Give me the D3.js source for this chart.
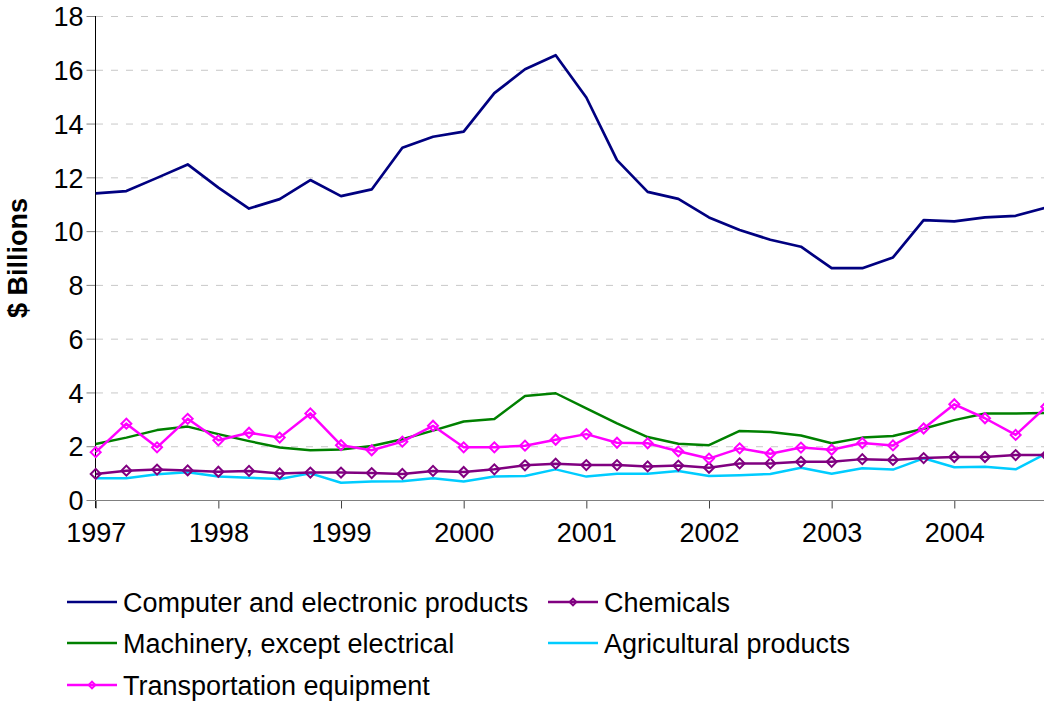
<!DOCTYPE html>
<html>
<head>
<meta charset="utf-8">
<script src="https://cdn.jsdelivr.net/npm/d3@7"></script>
<style>
  html, body { margin: 0; padding: 0; background: #fff; }
  svg { display: block; font-family: "Liberation Sans", Arial, sans-serif; }
</style>
</head>
<body>
<svg id="chart" width="1044" height="703"></svg>
<script>
// Quarterly data, 1997 Q1 .. 2004 Q4
const quarters = d3.range(32).map(i => 1997 + i / 4);
const computer = [11.40, 11.49, 11.98, 12.48, 11.62, 10.84, 11.19, 11.90,
                  11.30, 11.55, 13.10, 13.51, 13.70, 15.13, 16.02, 16.54,
                  14.97, 12.64, 11.46, 11.20, 10.51, 10.04, 9.68, 9.42,
                  8.62, 8.62, 9.02, 10.41, 10.36, 10.51, 10.57, 10.88];
const machinery = [2.08, 2.32, 2.60, 2.73, 2.45, 2.19, 1.95, 1.85,
                   1.88, 2.01, 2.26, 2.58, 2.92, 3.01, 3.87, 3.97,
                   3.41, 2.85, 2.34, 2.09, 2.04, 2.57, 2.53, 2.40,
                   2.11, 2.32, 2.38, 2.65, 2.97, 3.22, 3.22, 3.24];
const transport = [1.78, 2.84, 1.96, 3.02, 2.22, 2.50, 2.32, 3.22,
                   2.04, 1.85, 2.17, 2.76, 1.96, 1.96, 2.02, 2.24,
                   2.45, 2.13, 2.11, 1.81, 1.54, 1.92, 1.72, 1.95,
                   1.87, 2.12, 2.03, 2.66, 3.56, 3.04, 2.42, 3.47];
const chemicals = [0.97, 1.09, 1.13, 1.10, 1.05, 1.08, 0.99, 1.02,
                   1.02, 1.00, 0.97, 1.08, 1.04, 1.14, 1.29, 1.35,
                   1.30, 1.30, 1.25, 1.28, 1.20, 1.36, 1.36, 1.42,
                   1.42, 1.52, 1.49, 1.56, 1.60, 1.60, 1.67, 1.67];
const agricultural = [0.81, 0.81, 0.96, 1.03, 0.87, 0.83, 0.78, 0.99,
                      0.64, 0.69, 0.70, 0.81, 0.69, 0.87, 0.89, 1.14,
                      0.87, 0.98, 0.98, 1.08, 0.89, 0.92, 0.97, 1.20,
                      0.98, 1.18, 1.13, 1.55, 1.22, 1.24, 1.14, 1.73];
const xTickLabels = ["1997", "1998", "1999", "2000", "2001", "2002", "2003", "2004"];
const yTicks = [0, 2, 4, 6, 8, 10, 12, 14, 16, 18];
const yTitle = "$ Billions";

const series = [
  { name: "Computer and electronic products", values: computer, color: "#000080", marker: false, width: 2.7 },
  { name: "Machinery, except electrical", values: machinery, color: "#008000", marker: false, width: 2.5 },
  { name: "Transportation equipment", values: transport, color: "#FF00FF", marker: true, width: 2.5 },
  { name: "Chemicals", values: chemicals, color: "#800080", marker: true, width: 2.5 },
  { name: "Agricultural products", values: agricultural, color: "#00CCFF", marker: false, width: 2.5 }
];
const drawOrder = [0, 4, 3, 1, 2];

const svg = d3.select("#chart");
const x = d3.scaleLinear().domain([1997, 2004.75]).range([95.7, 1046.3]);
const y = d3.scaleLinear().domain([0, 18]).range([500, 16]);

// gridlines
svg.append("g").selectAll("line").data(yTicks.filter(d => d > 0)).join("line")
  .attr("x1", 96).attr("x2", 1044)
  .attr("y1", d => y(d) + 0.5).attr("y2", d => y(d) + 0.5)
  .attr("stroke", "#c8c8c8").attr("stroke-width", 1)
  .attr("stroke-dasharray", "7,8");

// y axis
const yAxis = d3.axisLeft(y).tickValues(yTicks).tickSize(9).tickPadding(3).tickFormat(d3.format("d"));
const gy = svg.append("g").attr("transform", "translate(95.5,0)").call(yAxis);
gy.select(".domain").remove();
gy.selectAll(".tick line").attr("stroke", "#808080");
gy.selectAll(".tick text").attr("font-size", 27).attr("fill", "#000").attr("dy", "0.36em")
  .attr("font-family", "Liberation Sans, Arial, sans-serif");
svg.append("line").attr("x1", 95.5).attr("x2", 95.5).attr("y1", 16).attr("y2", 508)
  .attr("stroke", "#000").attr("stroke-width", 1);

// x axis
const xAxis = d3.axisBottom(x).tickValues(d3.range(1997, 2005)).tickSize(8).tickPadding(14)
  .tickFormat((d, i) => xTickLabels[i]);
const gx = svg.append("g").attr("transform", "translate(0,500.5)").call(xAxis);
gx.select(".domain").remove();
gx.selectAll(".tick line").attr("stroke", "#404040");
gx.selectAll(".tick text").attr("font-size", 27).attr("fill", "#000")
  .attr("font-family", "Liberation Sans, Arial, sans-serif");
svg.append("line").attr("x1", 87).attr("x2", 1044).attr("y1", 500.5).attr("y2", 500.5)
  .attr("stroke", "#808080").attr("stroke-width", 1.2);

// y title
svg.append("text").attr("transform", "translate(27,258) rotate(-90)")
  .attr("text-anchor", "middle").attr("font-size", 27).attr("font-weight", "bold")
  .attr("fill", "#000").text(yTitle);

// lines
const line = d3.line().x((d, i) => x(quarters[i])).y(d => y(d));
const diamond = d3.symbol().type(d3.symbolSquare).size(50);
drawOrder.forEach(k => {
  const s = series[k];
  const g = svg.append("g");
  g.append("path").datum(s.values).attr("d", line)
    .attr("fill", "none").attr("stroke", s.color).attr("stroke-width", s.width)
    .attr("stroke-linejoin", "round");
  if (s.marker) {
    g.selectAll("path.m").data(s.values).join("path").attr("class", "m")
      .attr("d", diamond)
      .attr("transform", (d, i) => `translate(${x(quarters[i])},${y(d)}) rotate(45)`)
      .attr("fill", "none").attr("stroke", s.color).attr("stroke-width", 2);
  }
});

// legend
const legendItems = [
  { s: series[0], lx: 67, ly: 602 },
  { s: series[3], lx: 548, ly: 602 },
  { s: series[1], lx: 67, ly: 643 },
  { s: series[4], lx: 548, ly: 643 },
  { s: series[2], lx: 67, ly: 685 }
];
const lg = svg.append("g");
legendItems.forEach(it => {
  lg.append("line").attr("x1", it.lx).attr("x2", it.lx + 50).attr("y1", it.ly).attr("y2", it.ly)
    .attr("stroke", it.s.color).attr("stroke-width", 2.5);
  if (it.s.marker) {
    lg.append("path").attr("d", d3.symbol().type(d3.symbolSquare).size(22))
      .attr("transform", `translate(${it.lx + 25},${it.ly}) rotate(45)`)
      .attr("fill", "none").attr("stroke", it.s.color).attr("stroke-width", 2);
  }
  lg.append("text").attr("x", it.lx + 56).attr("y", it.ly + 9.5)
    .attr("font-size", 27).attr("fill", "#000").text(it.s.name);
});
</script>
</body>
</html>
